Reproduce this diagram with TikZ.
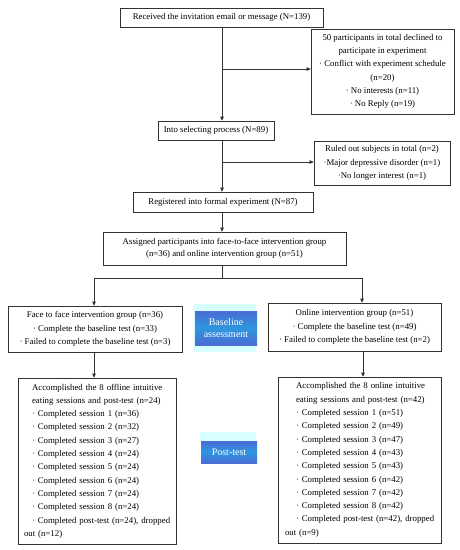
\documentclass[tikz,border=0pt]{standalone}
\usepackage{fontspec}
\setmainfont{Liberation Serif}
\usetikzlibrary{arrows.meta,calc}
\definecolor{frame}{RGB}{50,50,50}
\definecolor{halocol}{RGB}{215,255,255}
\definecolor{bluetop}{RGB}{75,108,212}
\definecolor{bluemid}{RGB}{45,150,222}
\begin{document}
\begin{tikzpicture}[x=1pt,y=-1pt,
  box/.style={draw=frame,line width=0.7pt,fill=white,inner sep=0pt,
    font=\fontsize{8.8}{13.3}\selectfont},
  arr/.style={draw=frame,line width=0.7pt,-{Triangle[length=4pt,width=3.6pt]}},
  ln/.style={draw=frame,line width=0.7pt},
  bluebox/.style={inner sep=0pt,text=white,font=\fontsize{10}{12}\selectfont,
    top color=bluetop,bottom color=bluetop,middle color=bluemid,align=center},
  halo/.style={fill=halocol,draw=none}
]
\useasboundingbox (0,0) rectangle (460,550);
\fill[white] (0,0) rectangle (460,550);

% main column
\node[box,minimum width=203pt,minimum height=19pt] (recv) at (221.5,17.5)
  {Received the invitation email or message (N=139)};
\node[box,minimum width=143pt,minimum height=85pt,align=center] (decl) at (382.5,71.5)
  {50 participants in total declined to\\participate in experiment\\
   · Conflict with experiment schedule\\(n=20)\\· No interests (n=11)\\· No Reply (n=19)};
\node[box,minimum width=116pt,minimum height=19pt] (sel) at (216,130.5)
  {Into selecting process (N=89)};
\node[box,minimum width=136pt,minimum height=44pt,align=center] (rule) at (382,163)
  {Ruled out subjects in total (n=2)\\·Major depressive disorder (n=1)\\·No longer interest (n=1)};
\node[box,minimum width=180pt,minimum height=20pt] (reg) at (223,202)
  {Registered into formal experiment (N=87)};
\node[box,minimum width=243pt,minimum height=33pt,align=center,
  font=\fontsize{8.8}{12}\selectfont] (assign) at (224.5,248.5)
  {Assigned participants into face-to-face intervention group\\(n=36) and online intervention group (n=51)};

% group boxes
\node[box,minimum width=174pt,minimum height=46pt,align=center] (face) at (95,329)
  {Face to face intervention group (n=36)\\· Complete the baseline test (n=33)\\· Failed to complete the baseline test (n=3)};
\node[box,minimum width=173pt,minimum height=48pt,align=center] (online) at (354.5,327)
  {Online intervention group (n=51)\\· Complete the baseline test (n=49)\\· Failed to complete the baseline test (n=2)};

\node[box,minimum width=158pt,minimum height=166pt,text width=146pt,align=left] (fsess) at (97,461)
  {\hspace*{8pt}Accomplished the 8 offline intuitive\\
   \hspace*{8pt}eating sessions and post-test (n=24)\\
   \hspace*{8pt}· Completed session 1 (n=36)\\
   \hspace*{8pt}· Completed session 2 (n=32)\\
   \hspace*{8pt}· Completed session 3 (n=27)\\
   \hspace*{8pt}· Completed session 4 (n=24)\\
   \hspace*{8pt}· Completed session 5 (n=24)\\
   \hspace*{8pt}· Completed session 6 (n=24)\\
   \hspace*{8pt}· Completed session 7 (n=24)\\
   \hspace*{8pt}· Completed session 8 (n=24)\\
   \mbox{\hspace*{8pt}· Completed post-test (n=24), dropped}\\
   out (n=12)};
\node[box,minimum width=163pt,minimum height=166pt,text width=149pt,align=left] (osess) at (359.5,460)
  {\hspace*{11pt}Accomplished the 8 online intuitive\\
   \hspace*{11pt}eating sessions and post-test (n=42)\\
   \hspace*{11pt}· Completed session 1 (n=51)\\
   \hspace*{11pt}· Completed session 2 (n=49)\\
   \hspace*{11pt}· Completed session 3 (n=47)\\
   \hspace*{11pt}· Completed session 4 (n=43)\\
   \hspace*{11pt}· Completed session 5 (n=43)\\
   \hspace*{11pt}· Completed session 6 (n=42)\\
   \hspace*{11pt}· Completed session 7 (n=42)\\
   \hspace*{11pt}· Completed session 8 (n=42)\\
   \mbox{\hspace*{11pt}· Completed post-test (n=42), dropped}\\
   out (n=9)};

% blue labels
\fill[halo] (193,304) rectangle (256,352);
\node[bluebox,minimum width=62pt,minimum height=34pt] (base) at (226,328) {Baseline\\assessment};
\fill[halo] (200,432) rectangle (256,441);
\node[bluebox,minimum width=56pt,minimum height=22pt] (post) at (229,452) {Post-test};

% connectors
\coordinate (c1) at (222,69);
\coordinate (c2) at (222,162);
\coordinate (split) at (222,278);
\coordinate (lj) at (94,278);
\coordinate (rj) at (362,278);
\draw[arr] (recv.south -| c1) -- (sel.north -| c1);
\draw[arr] (c1) -- (c1 -| decl.west);
\draw[arr] (sel.south -| c2) -- (reg.north -| c2);
\draw[arr] (c2) -- (c2 -| rule.west);
\draw[arr] (reg.south -| c2) -- (assign.north -| c2);
\draw[ln] (assign.south -| split) -- (split);
\draw[ln] (lj) -- (rj);
\draw[arr] (lj) -- (lj |- face.north);
\draw[arr] (rj) -- (rj |- online.north);
\draw[arr] (face.south -| lj) -- (fsess.north -| lj);
\draw[arr] ($(online.south -| rj)+(1,0)$) -- ($(osess.north -| rj)+(1,0)$);
\end{tikzpicture}
\end{document}
